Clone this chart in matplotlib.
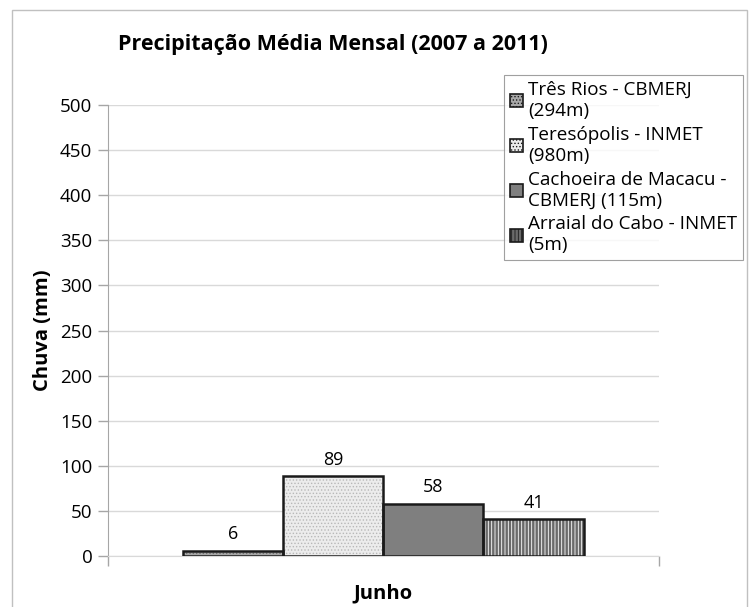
import matplotlib
matplotlib.use("Agg")
import matplotlib.pyplot as plt
from matplotlib.patches import Rectangle

plt.rcParams['font.family'] = ['Open Sans', 'DejaVu Sans']
plt.rcParams['hatch.linewidth'] = 0.6

# Monthly mean rainfall, June (2007-2011)
month = "Junho"
stations = [
    "Três Rios - CBMERJ\n(294m)",
    "Teresópolis - INMET\n(980m)",
    "Cachoeira de Macacu -\nCBMERJ (115m)",
    "Arraial do Cabo - INMET\n(5m)",
]
rain_mm = [6, 89, 58, 41]

fills = ['#a8a8a8', '#ececec', '#7f7f7f', '#6a6a6a']
hatches = ['.....', '.....', '', '|||||']
hatch_cols = ['#707070', '#b8b8b8', '#7f7f7f', '#ffffff']
axis_grey = '#a6a6a6'

fig = plt.figure(figsize=(7.52, 6.07), dpi=100)
ax = fig.add_axes([0.143, 0.084, 0.733, 0.743])

width = 0.182
offsets = [-1.5 * width, -0.5 * width, 0.5 * width, 1.5 * width]
for name, val, off, fc, h, hc in zip(stations, rain_mm, offsets, fills, hatches, hatch_cols):
    ax.bar(off, val, width=width, color=fc, hatch=h, edgecolor=hc, linewidth=0,
           label=name, zorder=3)
    # outline drawn separately so the hatch colour can differ
    ax.bar(off, val, width=width, fill=False, edgecolor='#1a1a1a', linewidth=1.8, zorder=4)
    ax.text(off, val + 8, f"{val}", ha='center', va='bottom', fontsize=13, zorder=5)

ax.set_xlim(-0.5, 0.5)
ax.set_ylim(0, 500)
ax.set_yticks(range(0, 501, 50))
ax.set_xticks([0])
ax.set_xticklabels([month], fontsize=14.5, fontweight='bold')
ax.set_xticks([-0.5, 0.5], minor=True)
ax.tick_params(axis='x', which='major', length=0, pad=20)
ax.tick_params(axis='x', which='minor', length=7, color=axis_grey, width=1)
ax.tick_params(axis='y', labelsize=13.5, length=7, color=axis_grey, width=1, pad=4)
ax.grid(axis='y', color='#d9d9d9', linewidth=1, zorder=0)
for s in ['top', 'right']:
    ax.spines[s].set_visible(False)
ax.spines['left'].set_color(axis_grey)
ax.spines['bottom'].set_color('#d9d9d9')

ax.set_ylabel("Chuva (mm)", fontsize=14.5, fontweight='bold', labelpad=5)
fig.text(0.443, 0.926, "Precipitação Média Mensal (2007 a 2011)", ha='center', va='center',
         fontsize=15.5, fontweight='bold')

handles, labels = ax.get_legend_handles_labels()
leg = fig.legend(handles, labels, loc='upper left', bbox_to_anchor=(0.670, 0.876),
                 fontsize=13.6, frameon=True, fancybox=False, edgecolor='#888888',
                 handlelength=0.7, handleheight=0.7, handletextpad=0.3,
                 labelspacing=0.32, borderpad=0.3, borderaxespad=0)
leg.get_frame().set_linewidth(0.8)
for p in leg.get_patches():
    p.set_edgecolor('#1a1a1a')
    p.set_linewidth(1.2)

# chart area border (open at the bottom edge)
fig.patches.append(Rectangle((0.016, -0.01), 0.978, 0.9935, transform=fig.transFigure,
                             fill=False, edgecolor='#c0c0c0', linewidth=1))

fig.savefig("out.png", dpi=100)
